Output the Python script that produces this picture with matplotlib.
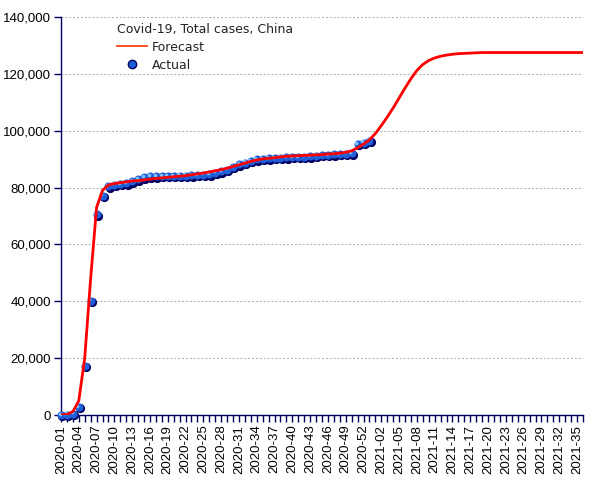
import matplotlib.pyplot as plt
import matplotlib.transforms as mtransforms
from matplotlib.lines import Line2D
from matplotlib.ticker import FuncFormatter

# Week categories, 2020-01 .. 2021-36
weeks = ["2020-%02d" % w for w in range(1, 54)] + ["2021-%02d" % w for w in range(1, 37)]

# Actual weekly totals, 2020-01 .. 2020-53
actual = [50, 100, 500, 2800, 17200, 40200, 70600, 77200, 80400, 81000,
          81200, 81500, 82200, 82900, 83600, 83900, 83950, 84000, 84050, 84100,
          84150, 84200, 84300, 84400, 84500, 84700, 85300, 85700, 86300, 87300,
          88200, 88800, 89400, 89900, 90100, 90250, 90400, 90500, 90600, 90700,
          90800, 90900, 91000, 91200, 91400, 91500, 91700, 91800, 91900, 92000,
          95300, 95800, 96500]

# Forecast curve, 2020-01 .. 2021-36
forecast = [0, 200, 1200, 5000, 20000, 48000, 73000, 79000, 80900, 81400,
            81700, 82000, 82300, 82400, 82700, 83000, 83200, 83400, 83600, 83800,
            84000, 84200, 84500, 84800, 85100, 85500, 85900, 86300, 86800, 87400,
            88000, 88600, 89200, 89700, 90100, 90300, 90500, 90800, 91000, 91100,
            91200, 91300, 91400, 91500, 91600, 91800, 91900, 92100, 92400, 92900,
            94000, 95300, 96800, 99000, 101800, 104800, 108000, 111500, 115000, 118300,
            121200, 123300, 124700, 125600, 126200, 126600, 126900, 127100, 127200, 127300,
            127400, 127500, 127500, 127500, 127500, 127500, 127500, 127500, 127500, 127500,
            127500, 127500, 127500, 127500, 127500, 127500, 127500, 127500, 127500]

navy = "#000060"

fig = plt.figure(figsize=(6.05, 4.8), dpi=100)
ax = fig.add_axes([0.1008, 0.1354, 0.8628, 0.8292])

xa = list(range(len(actual)))
xf = list(range(len(forecast)))

# shaded "sphere" markers
shadow = mtransforms.offset_copy(ax.transData, fig=fig, x=1.3, y=-1.3, units='dots')
light = mtransforms.offset_copy(ax.transData, fig=fig, x=-1.3, y=1.3, units='dots')
ax.plot(xa, actual, 'o', ms=6.6, color=navy, mec='none', transform=shadow, zorder=3, clip_on=False)
ax.plot(xa, actual, 'o', ms=5.8, color="#1f5fd8", mec='none', zorder=4, clip_on=False)
ax.plot(xa, actual, 'o', ms=2.6, color="#7fc4ff", mec='none', transform=light, zorder=5, clip_on=False)

ax.plot(xf, forecast, '-', color="#ff0000", lw=2.0, zorder=6, solid_capstyle='butt')

ax.set_xlim(0, len(weeks) - 1)
ax.set_ylim(0, 140000)
ax.set_yticks(range(0, 140001, 20000))
ax.yaxis.set_major_formatter(FuncFormatter(lambda v, p: "{:,.0f}".format(v)))
ax.set_xticks(range(len(weeks)))
ax.set_xticklabels([w if i % 3 == 0 else "" for i, w in enumerate(weeks)],
                   rotation=90, fontsize=9.5, family="Liberation Sans")
for lbl in ax.get_yticklabels():
    lbl.set_fontsize(9.5)
    lbl.set_family("Liberation Sans")

ax.grid(axis='y', color="#aaaaaa", linestyle=(0, (2, 2)), linewidth=0.7)
ax.set_axisbelow(True)
for s in ['top', 'right']:
    ax.spines[s].set_visible(False)
for s in ['left', 'bottom']:
    ax.spines[s].set_color(navy)
    ax.spines[s].set_linewidth(1.0)
ax.tick_params(axis='both', colors=navy, length=5, width=1, labelcolor='black', pad=2)

handles = [Line2D([0], [0], color="#ff3300", lw=1.2),
           Line2D([0], [0], marker='o', ls='none', ms=6, color="#1f5fd8", mec=navy)]
leg = ax.legend(handles, ["Forecast", "Actual"], title="Covid-19, Total cases, China",
                loc='upper left', bbox_to_anchor=(0.091, 1.008), frameon=False,
                fontsize=9, title_fontsize=9, alignment='left', handlelength=2.4,
                handletextpad=0.35, labelspacing=0.4, borderpad=0.2)
for t in leg.get_texts():
    t.set_color("#222222")
leg.get_title().set_color("#222222")

fig.savefig("out.png", dpi=100)
